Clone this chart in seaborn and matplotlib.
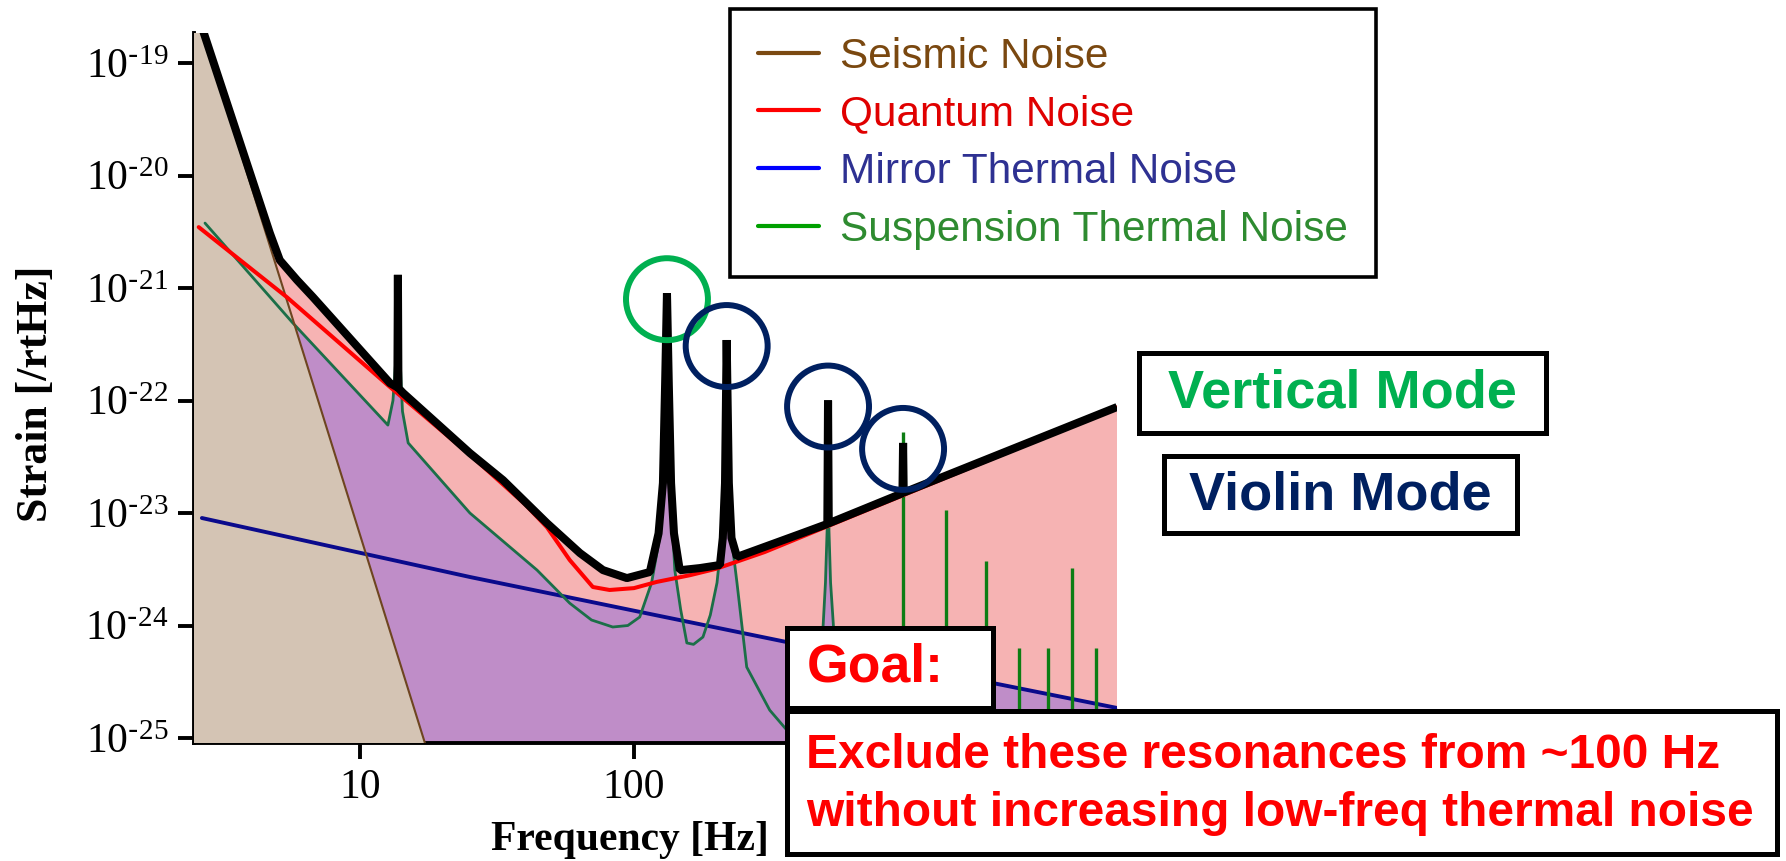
import matplotlib
matplotlib.use("Agg")
import matplotlib.pyplot as plt
import seaborn as sns
from matplotlib.patches import Rectangle
from matplotlib.lines import Line2D
from matplotlib.transforms import offset_copy

# ---------------- data ----------------
seis_freq = [2.48, 5.7, 17.4]
seis_strain = [3.4e-19, 5.2e-22, 8.5e-26]

quant_freq = [2.58, 5.41, 12.87, 25.2, 40.0, 48.1, 58.3, 70.8, 81.5, 100.0, 121.0,
              160.0, 200.0, 300.0, 400.0, 1000.0, 2000.0, 5794.0]
quant_strain = [3.48e-21, 8.3e-22, 1.32e-22, 3.3e-23, 1.2e-23, 7.5e-24, 3.82e-24, 2.2e-24,
                2.07e-24, 2.15e-24, 2.44e-24, 2.8e-24, 3.2e-24, 4.5e-24, 6.0e-24, 1.5e-23,
                3.0e-23, 8.7e-23]

mirror_freq = [2.65, 25.2, 361.0, 2042.0, 5794.0]
mirror_strain = [9.03e-24, 2.7e-24, 7.13e-25, 3.08e-25, 1.85e-25]

susp_freq = [2.72, 5.69, 12.65, 13.2, 13.55, 13.76, 13.95, 14.3, 15.0, 25.2, 44.3, 58.3,
             70.0, 83.7, 95.0, 105.0, 116.0, 124.0, 128.5, 131.0, 132.0, 133.0, 135.5,
             141.0, 148.0, 156.0, 165.0, 178.6, 190.0, 201.0, 209.0, 214.5, 217.0, 218.0,
             219.0, 221.5, 227.0, 237.7, 258.0, 313.0, 361.0, 440.0, 490.0, 500.0, 507.0,
             511.0, 515.0, 522.0, 535.0, 600.0]
susp_strain = [3.78e-21, 4.89e-22, 6.05e-23, 1.0e-22, 2.5e-22, 1.2e-21, 3.0e-22, 8.0e-23,
               4.2e-23, 1.0e-23, 3.11e-24, 1.58e-24, 1.12e-24, 9.7e-25, 1.0e-24, 1.19e-24,
               2.4e-24, 6.0e-24, 2.0e-23, 1.5e-22, 8.0e-22, 1.5e-22, 2.0e-23, 3.1e-24,
               1.4e-24, 7.0e-25, 6.8e-25, 7.9e-25, 1.24e-24, 2.4e-24, 6.0e-24, 2.0e-23,
               1.2e-22, 3.0e-22, 1.2e-22, 2.0e-23, 6.0e-24, 2.4e-24, 4.27e-25, 1.77e-25,
               1.18e-25, 6.4e-26, 9.7e-25, 2.4e-24, 7.0e-24, 9.0e-23, 7.0e-24, 2.4e-24,
               9.7e-25, 2.7e-26]

violin_freq = [960.0, 1377.0, 1928.0, 2541.0, 3243.0, 3970.0, 4855.0]
violin_peak = [5.2e-23, 1.06e-23, 3.74e-24, 6.3e-25, 6.3e-25, 3.24e-24, 6.3e-25]

total_freq = [2.48, 4.69, 5.1, 5.89, 6.74, 12.87, 13.7, 13.76, 13.82, 14.36, 25.2, 33.3,
              48.1, 63.5, 77.1, 94.3, 114.3, 123.0, 127.6, 130.0, 132.0, 134.0, 136.6,
              140.0, 147.0, 174.0, 206.0, 211.0, 215.0, 218.0, 222.0, 227.0, 237.7, 403.0,
              508.0, 511.0, 514.0, 955.0, 960.0, 965.0, 5794.0]
total_strain = [3.4e-19, 3.08e-21, 1.77e-21, 1.18e-21, 8.3e-22, 1.43e-22, 1.31e-22, 1.31e-21,
                1.29e-22, 1.17e-22, 3.41e-23, 1.96e-23, 8.15e-24, 4.41e-24, 3.11e-24,
                2.64e-24, 2.99e-24, 6.6e-24, 1.85e-23, 1.43e-22, 9.0e-22, 1.43e-22, 1.85e-23,
                6.6e-24, 3.1e-24, 3.24e-24, 3.45e-24, 6.0e-24, 1.85e-23, 3.45e-22, 1.85e-23,
                6.0e-24, 4.07e-24, 6.5e-24, 8.0e-24, 1.0e-22, 8.1e-24, 1.5e-23, 4.2e-23,
                1.52e-23, 8.75e-23]

vertical_mode_freq = [132.0]
vertical_mode_peak = [9.0e-22]
violin_mode_freq = [218.0, 511.0, 960.0]
violin_mode_peak = [3.45e-22, 1.0e-22, 4.2e-23]

xtick_values = [10, 100]
xtick_labels = ["10", "100"]
ytick_values = [1e-25, 1e-24, 1e-23, 1e-22, 1e-21, 1e-20, 1e-19]
ytick_labels = [r"10$^{\text{-}25}$", r"10$^{\text{-}24}$", r"10$^{\text{-}23}$",
                r"10$^{\text{-}22}$", r"10$^{\text{-}21}$", r"10$^{\text{-}20}$",
                r"10$^{\text{-}19}$"]

legend_labels = ["Seismic Noise", "Quantum Noise", "Mirror Thermal Noise",
                 "Suspension Thermal Noise"]
legend_line_colors = ["#7b4a12", "#ff0000", "#0000ff", "#00a000"]
legend_text_colors = ["#7a4810", "#e00000", "#2e3192", "#2e8b30"]

# ---------------- style ----------------
W, H, DPI = 1786, 861, 100
sns.set_theme(style="ticks")
plt.rcParams["font.family"] = ["Liberation Serif", "DejaVu Sans"]
plt.rcParams["mathtext.default"] = "regular"
plt.rcParams["axes.unicode_minus"] = False

PINK = "#f6b3b3"
PURPLE = "#bf8dc8"
TAN = "#d4c4b4"

fig = plt.figure(figsize=(W / DPI, H / DPI), dpi=DPI)
fig.patch.set_facecolor("white")
ax = fig.add_axes([194 / W, 1 - 743 / H, (1117 - 194) / W, (743 - 33) / H])
ax.set_facecolor("white")
ax.set_xscale("log")
ax.set_yscale("log")
ax.set_xlim(2.48, 5794)
ax.set_ylim(9.03e-26, 1.85e-19)

floor = 1e-27
ax.fill_between(total_freq, total_strain, floor, color=PINK, lw=0, zorder=1)
ax.fill_between(susp_freq, susp_strain, floor, color=PURPLE, lw=0, zorder=2)
ax.fill_between(mirror_freq, mirror_strain, floor, color=PURPLE, lw=0, zorder=2)
ax.fill_between(seis_freq, seis_strain, floor, color=TAN, lw=0, zorder=3)

sns.lineplot(x=mirror_freq, y=mirror_strain, ax=ax, color="#0a0a8c", lw=2.8,
             estimator=None, sort=False, zorder=4)
sns.lineplot(x=susp_freq, y=susp_strain, ax=ax, color="#1b6f48", lw=2.0,
             estimator=None, sort=False, zorder=5)
ax.vlines(violin_freq, floor, violin_peak, color="#0d7d14", lw=2.4, zorder=5)
sns.lineplot(x=seis_freq, y=seis_strain, ax=ax, color="#6e4520", lw=1.5,
             estimator=None, sort=False, zorder=6)
sns.lineplot(x=quant_freq, y=quant_strain, ax=ax, color="#ff0000", lw=2.9,
             estimator=None, sort=False, zorder=7)
sns.lineplot(x=total_freq, y=total_strain, ax=ax, color="black", lw=5.8,
             estimator=None, sort=False, zorder=8,
             solid_joinstyle="bevel", solid_capstyle="butt")

# circles around the resonances
circ_tr = offset_copy(ax.transData, fig=fig, x=0, y=-6, units="dots")
ax.scatter(vertical_mode_freq, vertical_mode_peak, s=3481, facecolors="none",
           edgecolors="#00b050", linewidths=4.3, transform=circ_tr, zorder=9)
ax.scatter(violin_mode_freq, violin_mode_peak, s=3481, facecolors="none",
           edgecolors="#002060", linewidths=4.3, transform=circ_tr, zorder=9)

# axes styling
sns.despine(ax=ax, top=True, right=True)
for side in ["left", "bottom"]:
    ax.spines[side].set_linewidth(2.8)
    ax.spines[side].set_color("black")
ax.set_xticks(xtick_values)
ax.set_xticklabels(xtick_labels)
ax.set_yticks(ytick_values)
ax.set_yticklabels(ytick_labels)
ax.minorticks_off()
ax.tick_params(axis="both", which="major", direction="out", length=11.5, width=2.8,
               color="black", labelsize=30, pad=7, labelcolor="black")
ax.grid(False)

ax.set_xlabel("Frequency [Hz]", fontsize=30, fontweight="bold", color="black")
ax.xaxis.set_label_coords((630 - 194) / (1117 - 194), (743 - 840) / (743 - 33))
ax.xaxis.label.set_verticalalignment("center")
ax.set_ylabel("Strain [/rtHz]", fontsize=31.5, fontweight="bold", color="black")
ax.yaxis.set_label_coords((36 - 194) / (1117 - 194), (743 - 394) / (743 - 33))
ax.yaxis.label.set_verticalalignment("center")

# legend
handles = [Line2D([], [], color=c, lw=3) for c in legend_line_colors]
leg = fig.legend(handles, legend_labels, loc="upper left",
                 bbox_to_anchor=(730 / W, 1 - 9 / H), bbox_transform=fig.transFigure,
                 frameon=True, fancybox=False, edgecolor="black", framealpha=1,
                 borderpad=0.65, labelspacing=0.42, handlelength=1.45,
                 handletextpad=0.5, borderaxespad=0,
                 prop={"family": "Liberation Sans", "size": 30.5},
                 labelcolor=legend_text_colors)
leg.get_frame().set_linewidth(2.6)


def box(x0, y0, x1, y1):
    r = Rectangle((x0 / W, 1 - y1 / H), (x1 - x0) / W, (y1 - y0) / H,
                  transform=fig.transFigure, facecolor="white", edgecolor="black",
                  linewidth=3.6, zorder=10)
    fig.add_artist(r)


def label(x, y, s, color, size, ha="left"):
    fig.text(x / W, 1 - y / H, s, ha=ha, va="center", color=color, fontsize=size,
             fontweight="bold", family=["Liberation Sans", "DejaVu Sans"], zorder=11)


box(1139, 353, 1546, 433)
label(1342, 393, "Vertical Mode", "#00b050", 39, ha="center")
box(1164, 456, 1517, 533)
label(1340, 495, "Violin Mode", "#002060", 39, ha="center")
box(787, 628, 993, 708)
label(807, 668, "Goal:", "#ff0000", 38.5)
box(787, 711, 1777, 854)
label(806, 756, "Exclude these resonances from ~100 Hz", "#ff0000", 34.5)
label(806, 814, "without increasing low-freq thermal noise", "#ff0000", 34.5)

fig.savefig("out.png", dpi=DPI, facecolor="white")
